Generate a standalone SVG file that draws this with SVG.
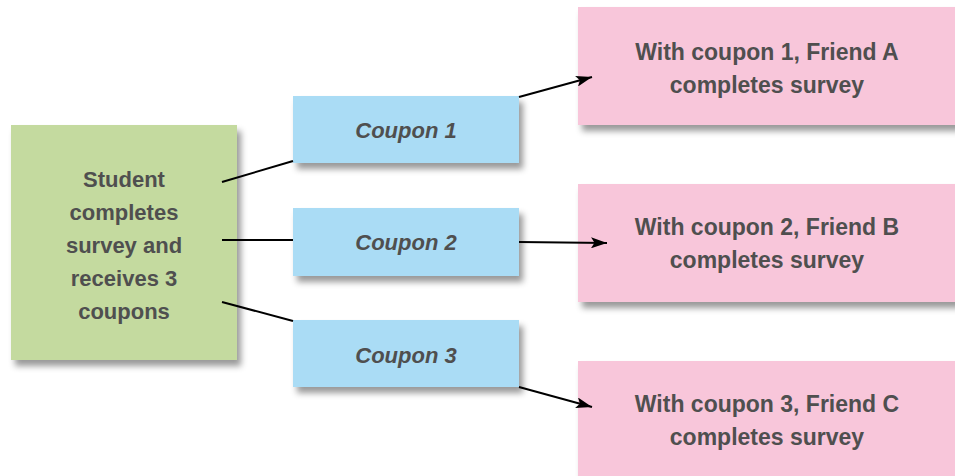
<svg xmlns="http://www.w3.org/2000/svg" width="955" height="476" viewBox="0 0 955 476">
  <style>
    .box { filter: url(#shadow); }
    .green { fill: #c4da9f; }
    .blue { fill: #aadcf5; }
    .pink { fill: #f8c6da; }
    .label { font-family: "Liberation Sans", Arial, sans-serif; font-weight: bold; fill: #4f4f4f; text-anchor: middle; }
    .big { font-size: 22px; }
    .friend { font-size: 23px; }
    .coupon { font-size: 22px; font-style: italic; }
    .link { stroke: #000; stroke-width: 2; fill: none; }
    .arrow { marker-end: url(#head); }
  </style>
  <defs>
    <filter id="shadow" x="-10%" y="-10%" width="125%" height="135%">
      <feDropShadow dx="4" dy="6" stdDeviation="3" flood-color="#000" flood-opacity="0.4"/>
    </filter>
    <marker id="head" viewBox="0 0 16 11" refX="16" refY="5.5" markerWidth="16" markerHeight="11" markerUnits="userSpaceOnUse" orient="auto">
      <path d="M0,0 L16,5.5 L0,11 L3.5,5.5 Z" fill="#000"/>
    </marker>
  </defs>

  <rect width="955" height="476" fill="#fff"/>

  <!-- source node -->
  <g id="student">
    <rect class="box green" x="11" y="125" width="226" height="235"/>
    <text class="label big" x="124" y="187">Student</text>
    <text class="label big" x="124" y="220">completes</text>
    <text class="label big" x="124" y="253">survey and</text>
    <text class="label big" x="124" y="286">receives 3</text>
    <text class="label big" x="124" y="319">coupons</text>
  </g>

  <!-- coupons -->
  <g id="coupon1">
    <rect class="box blue" x="293" y="96" width="226" height="67"/>
    <text class="label coupon" x="406" y="138">Coupon 1</text>
  </g>
  <g id="coupon2">
    <rect class="box blue" x="293" y="208" width="226" height="68"/>
    <text class="label coupon" x="406" y="250">Coupon 2</text>
  </g>
  <g id="coupon3">
    <rect class="box blue" x="293" y="320" width="226" height="67"/>
    <text class="label coupon" x="406" y="363">Coupon 3</text>
  </g>

  <!-- friends -->
  <g id="friendA">
    <rect class="box pink" x="578" y="7" width="380" height="118"/>
    <text class="label friend" x="767" y="60">With coupon 1, Friend A</text>
    <text class="label friend" x="767" y="93">completes survey</text>
  </g>
  <g id="friendB">
    <rect class="box pink" x="578" y="184" width="380" height="118"/>
    <text class="label friend" x="767" y="235">With coupon 2, Friend B</text>
    <text class="label friend" x="767" y="268">completes survey</text>
  </g>
  <g id="friendC">
    <rect class="box pink" x="578" y="361" width="380" height="118"/>
    <text class="label friend" x="767" y="412">With coupon 3, Friend C</text>
    <text class="label friend" x="767" y="445">completes survey</text>
  </g>

  <!-- connectors, drawn over the boxes -->
  <g id="connectors">
    <line class="link" x1="222" y1="182" x2="293" y2="161"/>
    <line class="link" x1="222" y1="240" x2="293" y2="240"/>
    <line class="link" x1="222" y1="302" x2="293" y2="321"/>
    <line class="link arrow" x1="519" y1="97" x2="592" y2="77"/>
    <line class="link arrow" x1="519" y1="242" x2="607" y2="243"/>
    <line class="link arrow" x1="519" y1="387" x2="592" y2="407"/>
  </g>
</svg>
